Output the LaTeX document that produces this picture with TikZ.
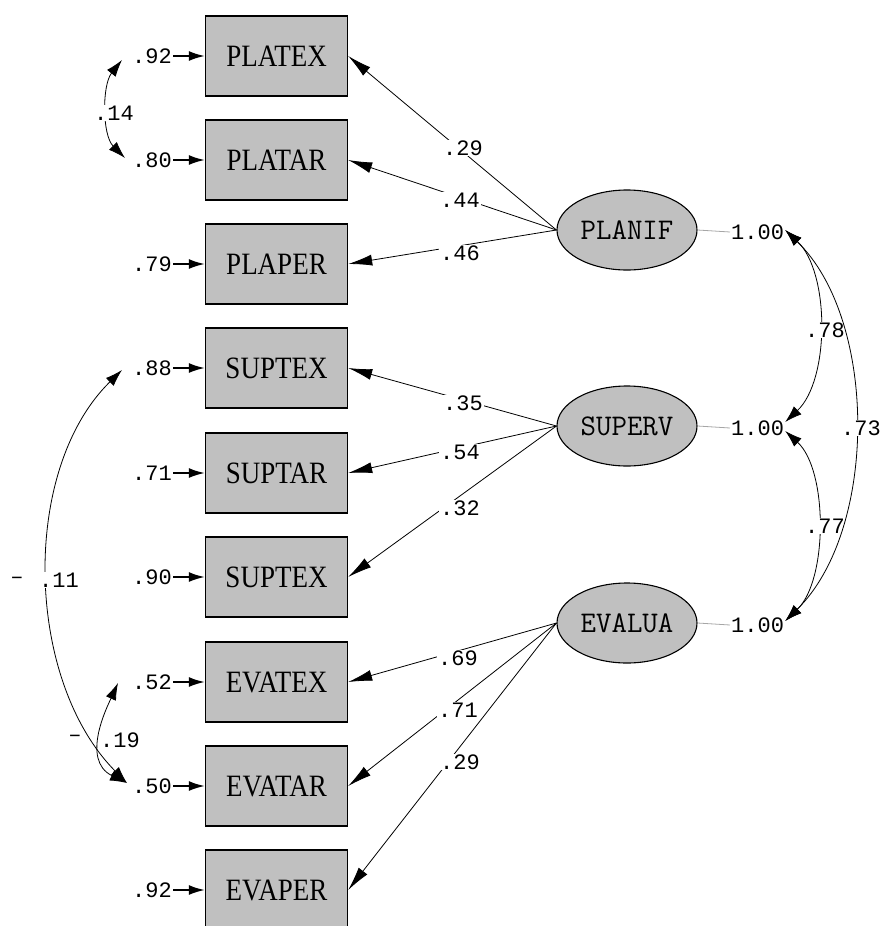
\documentclass[tikz,border=0pt]{standalone}
\usepackage{fontspec}
\newfontfamily\monofont{Liberation Mono}
\newfontfamily\boxfont{Liberation Serif}
\usetikzlibrary{shapes.geometric,arrows.meta}
\definecolor{boxgray}{RGB}{192,192,192}
\begin{document}
\begin{tikzpicture}[x=1pt,y=-1pt,
  obs/.style={draw=black,line width=1.4pt,fill=boxgray,minimum width=142pt,minimum height=80pt,inner sep=0pt,font=\boxfont\fontsize{27}{27}\selectfont},
  lat/.style={ellipse,draw=black,line width=1.1pt,fill=boxgray,minimum width=140pt,minimum height=80pt,inner sep=0pt,font=\ttfamily\fontsize{30}{30}\selectfont},
  num/.style={font=\monofont\fontsize{22}{22}\selectfont,inner sep=1pt},
  lbl/.style={num,fill=white},
  load/.style={line width=0.8pt,-{Latex[length=24pt,width=11pt]}},
  err/.style={line width=1.8pt,-{Latex[length=16pt,width=10pt]}},
  cov/.style={line width=0.8pt,{Latex[length=17pt,width=11pt]}-{Latex[length=17pt,width=11pt]}},
  fix/.style={draw=black!35,line width=0.8pt}
]
\useasboundingbox (0,0) rectangle (882,926);
\clip (0,0) rectangle (882,926);

% observed variables
\node[obs] (PLATEX) at (276.5,56) {\scalebox{1}[1.15]{PLATEX}};
\node[obs] (PLATAR) at (276.5,160) {\scalebox{1}[1.15]{PLATAR}};
\node[obs] (PLAPER) at (276.5,264) {\scalebox{1}[1.15]{PLAPER}};
\node[obs] (SUPTEXa) at (276.5,368) {\scalebox{1}[1.15]{SUPTEX}};
\node[obs] (SUPTAR) at (276.5,473) {\scalebox{1}[1.15]{SUPTAR}};
\node[obs] (SUPTEXb) at (276.5,577) {\scalebox{1}[1.15]{SUPTEX}};
\node[obs] (EVATEX) at (276.5,682) {\scalebox{1}[1.15]{EVATEX}};
\node[obs] (EVATAR) at (276.5,786) {\scalebox{1}[1.15]{EVATAR}};
\node[obs] (EVAPER) at (276.5,890) {\scalebox{1}[1.15]{EVAPER}};

% latent variables
\node[lat] (PLANIF) at (627,230) {PLANIF};
\node[lat] (SUPERV) at (627,426) {SUPERV};
\node[lat] (EVALUA) at (627,623) {EVALUA};

% error variances
\node[num,anchor=east] (e1) at (173,56) {.92};
\node[num,anchor=east] (e2) at (173,160) {.80};
\node[num,anchor=east] (e3) at (173,264) {.79};
\node[num,anchor=east] (e4) at (173,368) {.88};
\node[num,anchor=east] (e5) at (173,473) {.71};
\node[num,anchor=east] (e6) at (173,577) {.90};
\node[num,anchor=east] (e7) at (173,682) {.52};
\node[num,anchor=east] (e8) at (173,786) {.50};
\node[num,anchor=east] (e9) at (173,890) {.92};
\draw[err] (e1.east) -- (PLATEX.west);
\draw[err] (e2.east) -- (PLATAR.west);
\draw[err] (e3.east) -- (PLAPER.west);
\draw[err] (e4.east) -- (SUPTEXa.west);
\draw[err] (e5.east) -- (SUPTAR.west);
\draw[err] (e6.east) -- (SUPTEXb.west);
\draw[err] (e7.east) -- (EVATEX.west);
\draw[err] (e8.east) -- (EVATAR.west);
\draw[err] (e9.east) -- (EVAPER.west);

% loadings
\draw[load] (PLANIF.west) -- (PLATEX.east);
\draw[load] (PLANIF.west) -- (PLATAR.east);
\draw[load] (PLANIF.west) -- (PLAPER.east);
\draw[load] (SUPERV.west) -- (SUPTEXa.east);
\draw[load] (SUPERV.west) -- (SUPTAR.east);
\draw[load] (SUPERV.west) -- (SUPTEXb.east);
\draw[load] (EVALUA.west) -- (EVATEX.east);
\draw[load] (EVALUA.west) -- (EVATAR.east);
\draw[load] (EVALUA.west) -- (EVAPER.east);
\node[lbl] (l1) at (463,148) {.29};
\node[lbl] (l2) at (460,200) {.44};
\node[lbl] (l3) at (460,253) {.46};
\node[lbl] (l4) at (463,403) {.35};
\node[lbl] (l5) at (460,452) {.54};
\node[lbl] (l6) at (460,508) {.32};
\node[lbl] (l7) at (458,658) {.69};
\node[lbl] (l8) at (458,710) {.71};
\node[lbl] (l9) at (460,762) {.29};

% latent variances
\node[num,anchor=west] (v1) at (730,232) {1.00};
\node[num,anchor=west] (v2) at (730,428) {1.00};
\node[num,anchor=west] (v3) at (730,625) {1.00};
\draw[fix] (PLANIF.east) -- (v1.west);
\draw[fix] (SUPERV.east) -- (v2.west);
\draw[fix] (EVALUA.east) -- (v3.west);

% latent correlations
\draw[cov] ([yshift=2pt]v1.east) .. controls (830,272) and (830,380) .. ([yshift=6pt]v2.east);
\draw[cov] ([yshift=-3pt]v2.east) .. controls (828,470) and (828,580) .. ([yshift=4pt]v3.east);
\node[lbl] (c78) at (825,330) {.78};
\node[lbl] (c77) at (825,526) {.77};
\draw[cov] ([yshift=2pt]v1.east) .. controls (878,320) and (878,530) .. ([yshift=4pt]v3.east);
\node[lbl] (c73) at (861,428) {.73};

% error covariances
\draw[cov] ([xshift=-9pt,yshift=-4pt]e1.west) .. controls (102,85) and (102,135) .. ([xshift=-6pt,yshift=2pt]e2.west);
\node[lbl] (c14) at (114,113) {.14};
\draw[cov] ([xshift=-9pt,yshift=-2pt]e4.west) .. controls (20,470) and (25,680) .. ([xshift=-4pt,yshift=3pt]e8.west);
\draw[cov] ([xshift=-13pt,yshift=-1pt]e7.west) .. controls (108,705) and (80,760) .. ([xshift=-4pt,yshift=3pt]e8.west);
\node[lbl] (m11) at (17,580) {\textendash};
\node[lbl] (c11) at (59,580) {.11};
\node[lbl] (m19) at (75,738) {\textendash};
\node[lbl] (c19) at (120,740) {.19};
\end{tikzpicture}
\end{document}
